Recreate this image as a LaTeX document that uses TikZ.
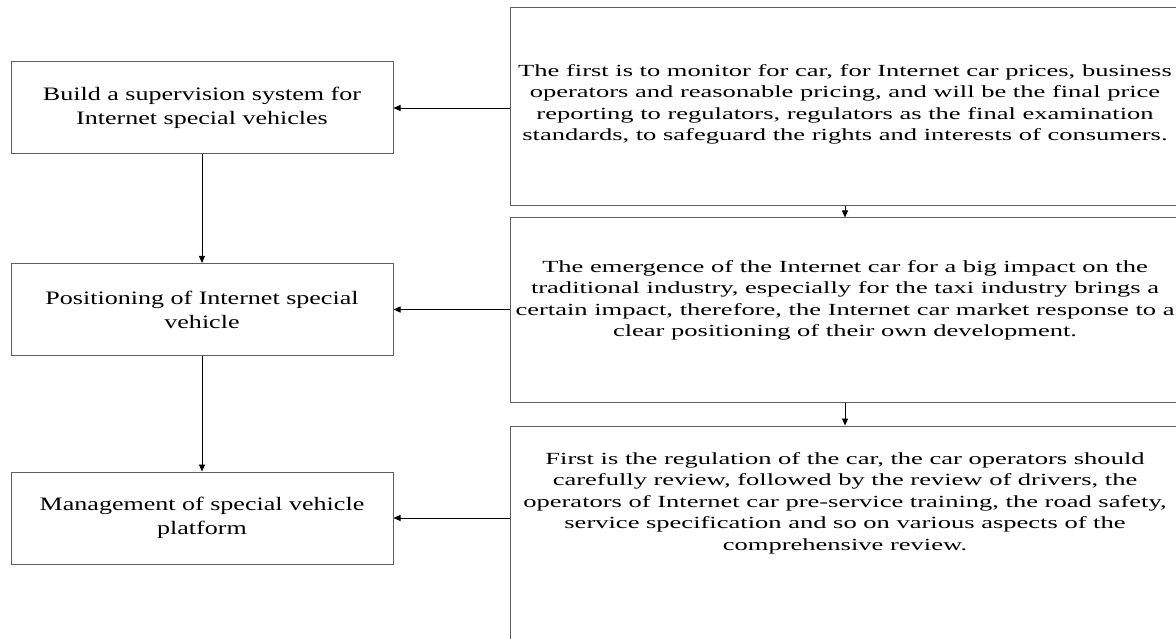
\documentclass[tikz,border=0pt]{standalone}
\usepackage{fontspec}
\setmainfont{Liberation Serif}
\newfontfamily\leftfont{Liberation Serif}[FakeStretch=1.37]
\newfontfamily\rightfont{Liberation Serif}[FakeStretch=1.56]
\usetikzlibrary{arrows.meta}
\definecolor{boxgray}{HTML}{5E5E5E}
\tikzset{
 lbox/.style={draw=boxgray, line width=1pt, minimum width=382pt, minimum height=92pt, align=center, font=\leftfont\fontsize{19}{24}\selectfont, inner sep=0pt},
 rbox/.style={draw=boxgray, line width=1pt, minimum width=670pt, inner sep=0pt},
 rtext/.style={align=center, font=\rightfont\fontsize{17}{21.5}\selectfont, inner sep=0pt},
 arr/.style={-{Triangle[length=7pt,width=6pt]}, line width=0.9pt, black}
}
\begin{document}
\begin{tikzpicture}[x=1pt,y=-1pt]
\useasboundingbox (0,0) rectangle (1176,639);
\clip (0,0) rectangle (1176,639);
\node[lbox] (L1) at (202,108) {Build a supervision system for\\Internet special vehicles};
\node[lbox] (L2) at (202,309.5) {Positioning of Internet special\\vehicle};
\node[lbox] (L3) at (202,518) {Management of special vehicle\\platform};
\node[rbox, minimum height=198pt] (R1) at (845,107) {};
\node[rbox, minimum height=184pt] (R2) at (845,310) {};
\node[rbox, minimum height=240pt] (R3) at (845,546) {};
\node[rtext] (T1) at (845,104.5) {The first is to monitor for car, for Internet car prices, business\\operators and reasonable pricing, and will be the final price\\reporting to regulators, regulators as the final examination\\standards, to safeguard the rights and interests of consumers.};
\node[rtext] (T2) at (845,300.5) {The emergence of the Internet car for a big impact on the\\traditional industry, especially for the taxi industry brings a\\certain impact, therefore, the Internet car market response to a\\clear positioning of their own development.};
\node[rtext] (T3) at (845,503) {First is the regulation of the car, the car operators should\\carefully review, followed by the review of drivers, the\\operators of Internet car pre-service training, the road safety,\\service specification and so on various aspects of the\\comprehensive review.};
\draw[arr] (R1.west |- L1.east) -- (L1.east);
\draw[arr] (R2.west |- L2.east) -- (L2.east);
\draw[arr] (R3.west |- L3.east) -- (L3.east);
\draw[arr] (L1) -- (L2);
\draw[arr] (L2) -- (L3);
\draw[arr] (R1) -- (R2);
\draw[arr] (R2.south) -- (R3.north);
\end{tikzpicture}
\end{document}
